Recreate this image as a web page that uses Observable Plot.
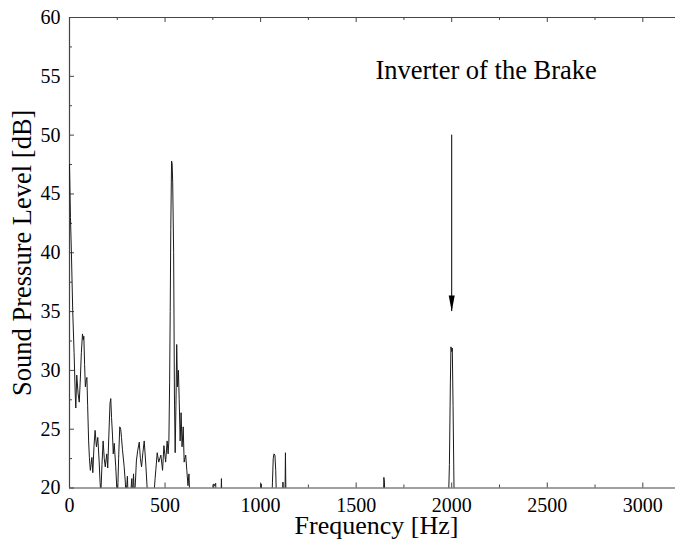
<!DOCTYPE html>
<html>
<head>
<meta charset="utf-8">
<script src="https://cdn.jsdelivr.net/npm/d3@7"></script>
<script src="https://cdn.jsdelivr.net/npm/@observablehq/plot@0.6"></script>
<style>
  html, body { margin: 0; padding: 0; background: #fff; }
</style>
</head>
<body>
<div id="chart"></div>
<script>
// Spectrum (values below 20 dB fall outside the frame)
const freq = [
  0, 5, 10, 17, 24, 30, 33, 38, 45, 51, 56, 62, 68, 72, 75, 79, 83, 88, 91, 95,
  100, 104, 109, 113, 117, 122, 128, 134, 141, 148, 155, 160, 164, 170, 176, 182, 187, 195, 200, 206,
  212, 216, 220, 225, 229, 234, 242, 248, 251, 257, 263, 268, 272, 277, 286, 292, 295, 300, 303, 306,
  312, 320, 326, 330, 335, 340, 345, 350, 357, 365, 371, 377, 384, 391, 396, 400, 408, 420, 435, 442,
  448, 452, 459, 467, 478, 487, 494, 503, 511, 516, 520, 524, 527, 530, 534, 537, 540, 545, 549, 553,
  557, 561, 565, 570, 574, 579, 584, 589, 595, 600, 608, 614, 620, 625, 630, 640,
  750, 755, 760, 765, 770, 790, 795, 800,
  998, 1003, 1008, 1055, 1062, 1066, 1070, 1075, 1079, 1083, 1090,
  1112, 1117, 1121, 1126, 1130, 1134,
  1640, 1645, 1648, 1652,
  1980, 1988, 1993, 1996, 2000, 2003, 2007, 2012, 2018, 3171
];
const spl = [
  47.5, 43, 40, 35, 31.5, 28, 26.8, 29.6, 28.0, 27.3, 29, 31.5, 33.1, 32.6, 32.9, 30.5, 28.6, 29.2, 29.4, 27,
  24, 22.6, 21.5, 22.0, 22.6, 21.3, 23.5, 24.9, 23.5, 24.3, 22.3, 20.5, 19.5, 22, 24.0, 22.5, 21.8, 22.9, 21.7, 24.5,
  27.2, 27.6, 26.0, 24.5, 22.9, 23.8, 21.8, 19.8, 19, 22.5, 25.2, 25.0, 24.3, 23.3, 21.8, 20.5, 19.5, 20.3, 21.0, 19.5,
  18, 19.5, 20.8, 19.2, 21.2, 19.2, 20.5, 22.3, 23.2, 23.9, 22.5, 21.8, 23.0, 24.0, 22.8, 21.8, 19.5, 18, 18, 19.5,
  20.8, 21.6, 23.0, 22.2, 22.8, 21.5, 23.6, 22.2, 24.0, 22.9, 24, 29, 35, 42, 47.8, 47.6, 46, 40, 28, 23,
  27, 32.2, 28.6, 30.0, 27.5, 24.0, 26.4, 23.5, 25.2, 22.2, 22.8, 21.5, 20.2, 21.2, 19, 17,
  17, 20.35, 20.2, 20.4, 17, 17, 20.8, 17,
  17, 20.35, 17, 17, 20.5, 22.5, 22.9, 22.8, 21.5, 19, 17,
  17, 20.5, 17, 17, 23.0, 17,
  17, 20.9, 20.5, 17,
  17, 22, 29, 32.0, 31.6, 31.9, 27, 20, 17, 17
];

// Axis ticks
const xMajor = [0, 500, 1000, 1500, 2000, 2500, 3000];
const xMinor = [250, 750, 1250, 1750, 2250, 2750];
const yMajor = [20, 25, 30, 35, 40, 45, 50, 55, 60];
const yMinor = [22.5, 27.5, 32.5, 37.5, 42.5, 47.5, 52.5, 57.5];

// Texts and annotation
const titleText = "Inverter of the Brake";
const titleAt = {x: 2180, y: 55.5};
const xLabel = "Frequency [Hz]";
const yLabel = "Sound Pressure Level [dB]";
const arrowAt = {x: 2000, yFrom: 50, yTo: 35};

const data = freq.map((f, i) => ({f, db: spl[i]}));

const W = 675, H = 542;
const mL = 69, mR = 0, mT = 17, mB = 54.5;
const xMax = 3171, yMin = 20, yMax = 60;
const dbPerPx = (yMax - yMin) / (H - mT - mB);
const hzPerPx = xMax / (W - mL - mR);
const axisColor = "#444";

const arrowHead = {
  draw(ctx, l) {
    ctx.moveTo(0, 0);
    ctx.lineTo(-3, -l);
    ctx.lineTo(3, -l);
    ctx.closePath();
  }
};

const chart = Plot.plot({
  width: W,
  height: H,
  marginLeft: mL,
  marginRight: mR,
  marginTop: mT,
  marginBottom: mB,
  x: {domain: [0, xMax]},
  y: {domain: [yMin, yMax]},
  style: {
    fontFamily: "'Liberation Serif', 'Times New Roman', serif",
    fontSize: "20px",
    color: "#000",
    background: "#fff"
  },
  marks: [
    // frame (top, bottom, left)
    Plot.ruleY([yMin, yMax], {stroke: axisColor, strokeWidth: 1.2}),
    Plot.ruleX([0], {stroke: axisColor, strokeWidth: 1.2}),
    // inward ticks
    Plot.ruleX(xMajor, {y1: yMin, y2: yMin + 5 * dbPerPx, stroke: axisColor}),
    Plot.ruleX(xMinor, {y1: yMin, y2: yMin + 3 * dbPerPx, stroke: axisColor}),
    Plot.ruleX(xMajor, {y1: yMax, y2: yMax - 5 * dbPerPx, stroke: axisColor}),
    Plot.ruleX(xMinor, {y1: yMax, y2: yMax - 3 * dbPerPx, stroke: axisColor}),
    Plot.ruleY(yMajor, {x1: 0, x2: 5 * hzPerPx, stroke: axisColor}),
    Plot.ruleY(yMinor, {x1: 0, x2: 3 * hzPerPx, stroke: axisColor}),
    // tick labels
    Plot.axisX(xMajor, {tickSize: 0, tickPadding: 10, label: null, fontSize: 20, tickFormat: d => String(d)}),
    Plot.axisY(yMajor, {tickSize: 0, tickPadding: 9, label: null, fontSize: 20, tickFormat: d => String(d)}),
    // spectrum
    Plot.line(data, {x: "f", y: "db", stroke: "#1a1a1a", strokeWidth: 1, clip: true}),
    // arrow
    Plot.ruleX([arrowAt.x], {y1: arrowAt.yFrom, y2: arrowAt.yTo, stroke: "#000", strokeWidth: 1}),
    Plot.vector([arrowAt], {x: "x", y: "yTo", length: 16, anchor: "start", shape: arrowHead, fill: "#000", stroke: "none"}),
    // texts
    Plot.text([titleText], {x: titleAt.x, y: titleAt.y, fontSize: 26.5, textAnchor: "middle", lineAnchor: "middle", fill: "#000"}),
    Plot.text([xLabel], {frameAnchor: "bottom", dy: 38, dx: 4, fontSize: 26, textAnchor: "middle", lineAnchor: "middle", fill: "#000"}),
    Plot.text([yLabel], {frameAnchor: "left", dx: -47, rotate: -90, fontSize: 26.5, textAnchor: "middle", lineAnchor: "middle", fill: "#000"})
  ]
});

document.getElementById("chart").append(chart);
</script>
</body>
</html>
